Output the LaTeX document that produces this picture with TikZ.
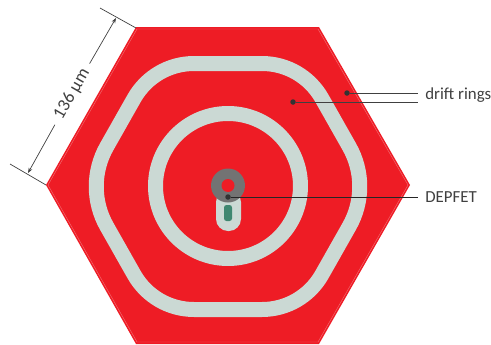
\documentclass[tikz,border=0pt]{standalone}
\usepackage{fontspec}
\setmainfont{Carlito}
\usepackage{xcolor}
\usetikzlibrary{arrows.meta,positioning,calc}
\definecolor{siliconred}{HTML}{EE1C25}
\definecolor{ringgrey}{HTML}{CBD9D4}
\definecolor{gategreen}{HTML}{3F8770}
\definecolor{inkgrey}{HTML}{404040}

\begin{document}
\begin{tikzpicture}[x=0.02cm,y=-0.02cm,>={Stealth[length=3pt,width=2.2pt]},
  ring/.style={draw=ringgrey,line width=0.3cm,line join=round},
  dot/.style={circle,fill=black!80,inner sep=0pt,minimum size=0.11cm},
  pointer/.style={draw=inkgrey,line width=0.5pt},
  dimline/.style={draw=inkgrey,line width=0.4pt},
  every node/.style={font=\fontsize{9.6}{11}\selectfont,text=inkgrey}]
  \useasboundingbox (0,0) rectangle (491,345);
  % Hexagon
  \fill[siliconred] (136,27) -- (319,27) -- (410,185) -- (319,344) -- (136,344) -- (46,185) -- cycle;
  \draw[siliconred!65!white,line width=0.25pt] (137,29) -- (318,29) -- (408,185) -- (318,342) -- (137,342) -- (48,185) -- cycle;
  % Drift rings
  \draw[ring] (194,63.5) -- (262,63.5) .. controls (286.8,63.5) and (309.5,76.7) .. (321.8,98.2)
    -- (349.1,146.4) .. controls (363.3,171.2) and (363.3,201.8) .. (349.1,226.6)
    -- (321.8,274.8) .. controls (309.5,296.3) and (286.8,309.5) .. (262,309.5)
    -- (194,309.5) .. controls (169.2,309.5) and (146.5,296.3) .. (134.2,274.8)
    -- (106.9,226.6) .. controls (92.7,201.8) and (92.7,171.2) .. (106.9,146.4)
    -- (134.2,98.2) .. controls (146.5,76.7) and (169.2,63.5) .. (194,63.5) -- cycle;
  \draw[ring] (228,186) circle (72.5);
  % Readout
  \fill[ringgrey,rounded corners=0.24cm] (216,190) rectangle (241,231);
  \fill[gategreen,rounded corners=0.05cm] (224,205) rectangle (232,221);
  \fill[gray!90!black] (228,185.5) circle (17);
  \fill[siliconred] (228,185.5) circle (6.5);
  % Labels
  \node[dot] (outerdot) at (347,93) {};
  \node[dot] (innerdot) at (293,102) {};
  \node[dot] (depfetdot) at (228,197) {};
  \node[anchor=west,inner sep=0pt] (ringlabel) at (425,95) {drift rings};
  \node[anchor=west,inner sep=0pt] (depfetlabel) at (425,197) {DEPFET};
  \coordinate (outerend) at (418,93);
  \coordinate (innerend) at (418,102);
  \coordinate (depfetend) at (418,197);
  \draw[pointer] (outerdot) -- (outerend);
  \draw[pointer] (innerdot) -- (innerend);
  \draw[pointer,draw=black!85] (depfetdot) -- (depfetend);
  % Dimension
  \coordinate (topa) at (100,8);
  \coordinate (topb) at (136,28);
  \coordinate (bota) at (10,164);
  \coordinate (botb) at (46,185);
  \coordinate (toptip) at (116,18);
  \coordinate (bottip) at (28,173);
  \node[rotate=60,inner xsep=4pt,inner ysep=1pt,font=\fontsize{10.2}{12}\selectfont] (dimlabel) at (72,94) {136 µm};
  \draw[dimline] (topa) -- (topb);
  \draw[dimline] (bota) -- (botb);
  \draw[dimline,->] (dimlabel) -- (toptip);
  \draw[dimline,->] (dimlabel) -- (bottip);
\end{tikzpicture}
\end{document}
